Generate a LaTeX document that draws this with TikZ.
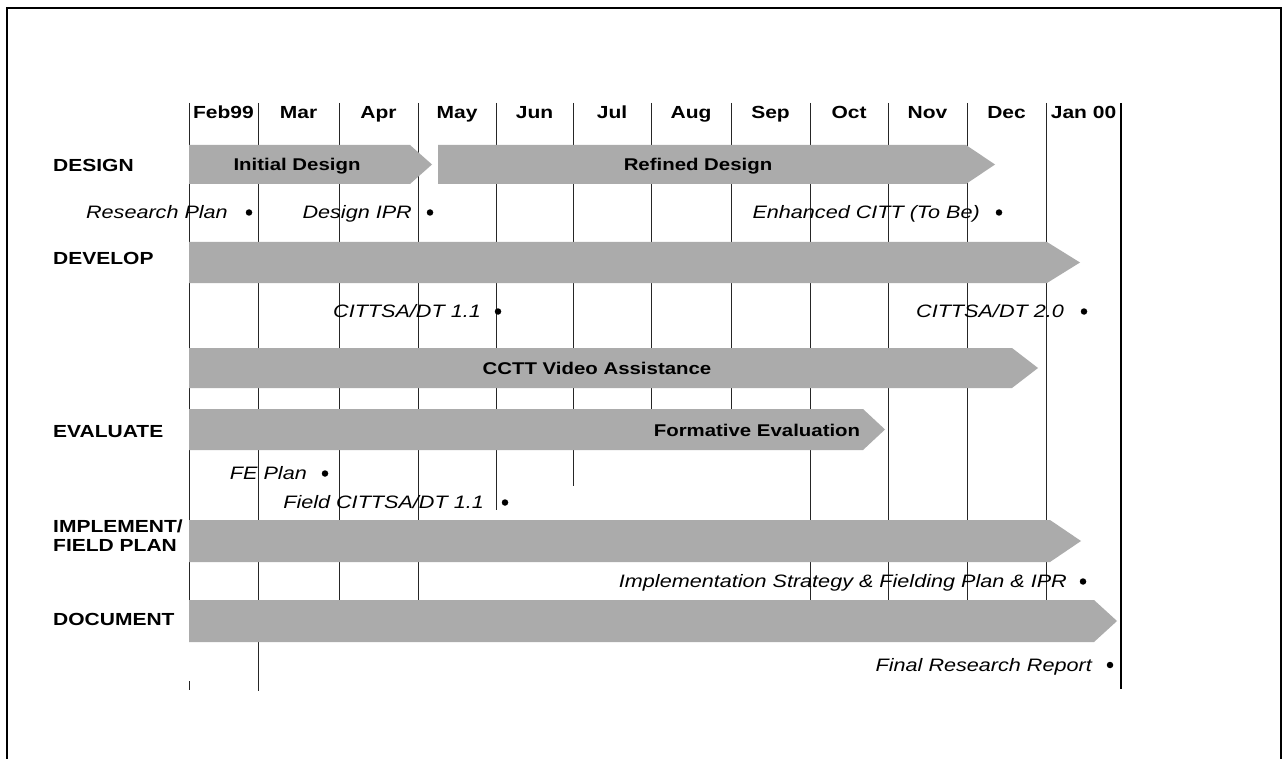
\documentclass[tikz,border=0pt]{standalone}
\usepackage{fontspec}
\setmainfont{Liberation Sans}[FakeStretch=1.2]
\begin{document}
\begin{tikzpicture}[x=1pt,y=-1pt]
    % Estilo para los meses y las fases
    \tikzstyle{mes_style} = [font=\fontsize{17.5}{19}\selectfont\bfseries, inner sep=0pt, anchor=base]
    \tikzstyle{fase_style} = [font=\fontsize{17.5}{19}\selectfont\bfseries, inner sep=0pt, anchor=base west]

    % Estilo para las barras y sus textos
    \tikzstyle{barra_style} = [fill=black!33]
    \tikzstyle{texto_barra} = [font=\fontsize{17}{19}\selectfont\bfseries, inner sep=0pt, anchor=base]

    % Estilo para los hitos
    \tikzstyle{hito_style} = [font=\fontsize{18}{20}\selectfont\itshape, inner sep=0pt, anchor=base east]
    \tikzstyle{punto_style} = [circle, fill=black, inner sep=0pt, minimum size=6.5pt]

    % Estilo para la rejilla
    \tikzstyle{rejilla_style} = [line width=0.9pt, draw=black!85]

    % Fondo y marco
    \useasboundingbox (0,0) rectangle (1284,759);
    \fill[white] (0,0) rectangle (1284,759);
    \draw[line width=1.6pt] (7,759) -- (7,8) -- (1281,8) -- (1281,759);

    % Lineas de los meses
    \foreach \x/\yfin in {189/600, 258/691, 339/600, 418/600, 496/510, 573/486,
                          651/409, 731/409, 810/600, 888/600, 967/600, 1046/600}
        \draw[rejilla_style] (\x,103) -- (\x,\yfin);
    \draw[rejilla_style] (189,681) -- (189,690);
    \draw[line width=1.6pt] (1121,103) -- (1121,689);

    % Meses
    \foreach \mes/\x [count=\i] in {Feb99/223.5, Mar/298.5, Apr/378.5, May/457, Jun/534.5, Jul/612,
                                   Aug/691, Sep/770.5, Oct/849, Nov/927.5, Dec/1006.5, Jan 00/1083.5}
        \node[mes_style] (mes\i) at (\x,118.5) {\mes};

    % Fases
    \node[fase_style] (fDesign) at (53,171.5) {DESIGN};
    \node[fase_style] (fDevelop) at (53,264.5) {DEVELOP};
    \node[fase_style] (fEvaluate) at (53,437.5) {EVALUATE};
    \node[fase_style] (fImplement) at (53,532.5) {IMPLEMENT/};
    \node[fase_style] (fField) at (53,551.5) {FIELD PLAN};
    \node[fase_style] (fDocument) at (53,625) {DOCUMENT};

    % Barras
    \fill[barra_style] (189,145) -- (410,145) -- (432,164.5) -- (410,184) -- (189,184) -- cycle;
    \fill[barra_style] (438,145) -- (966,145) -- (995,164.5) -- (966,184) -- (438,184) -- cycle;
    \fill[barra_style] (189,242) -- (1047,242) -- (1080,262.5) -- (1047,283) -- (189,283) -- cycle;
    \fill[barra_style] (189,348) -- (1012,348) -- (1038,368) -- (1012,388) -- (189,388) -- cycle;
    \fill[barra_style] (189,409) -- (863,409) -- (885,429.5) -- (863,450) -- (189,450) -- cycle;
    \fill[barra_style] (189,520) -- (1050,520) -- (1081,541) -- (1050,562) -- (189,562) -- cycle;
    \fill[barra_style] (189,600) -- (1094,600) -- (1117,621) -- (1094,642) -- (189,642) -- cycle;

    % Textos de las barras
    \node[texto_barra] (bInitial) at (297,170.5) {Initial Design};
    \node[texto_barra] (bRefined) at (698,170.5) {Refined Design};
    \node[texto_barra] (bCCTT) at (597,374) {CCTT Video Assistance};
    \node[texto_barra] (bFormative) at (757,436) {Formative Evaluation};

    % Hitos (texto y punto)
    \node[hito_style] (hResearch) at (228,218.5) {Research Plan};
    \node[punto_style] (pResearch) at (249,212.5) {};
    \node[hito_style] (hDesignIPR) at (412,218.5) {Design IPR};
    \node[punto_style] (pDesignIPR) at (430,212.5) {};
    \node[hito_style] (hEnhanced) at (980,218.5) {Enhanced CITT (To Be)};
    \node[punto_style] (pEnhanced) at (999,212.5) {};

    \node[hito_style] (hCitt11) at (481,317.5) {CITTSA/DT 1.1};
    \node[punto_style] (pCitt11) at (498,311.5) {};
    \node[hito_style] (hCitt20) at (1064,317.5) {CITTSA/DT 2.0};
    \node[punto_style] (pCitt20) at (1084,311.5) {};

    \node[hito_style] (hFEPlan) at (307,479.5) {FE Plan};
    \node[punto_style] (pFEPlan) at (325,473.5) {};
    \node[hito_style] (hField) at (484,508.5) {Field CITTSA/DT 1.1};
    \node[punto_style] (pField) at (505,502.5) {};

    \node[hito_style] (hStrategy) at (1067,587.5) {Implementation Strategy \& Fielding Plan \& IPR};
    \node[punto_style] (pStrategy) at (1083,581.5) {};
    \node[hito_style] (hFinal) at (1092,671) {Final Research Report};
    \node[punto_style] (pFinal) at (1110,665) {};

\end{tikzpicture}
\end{document}
